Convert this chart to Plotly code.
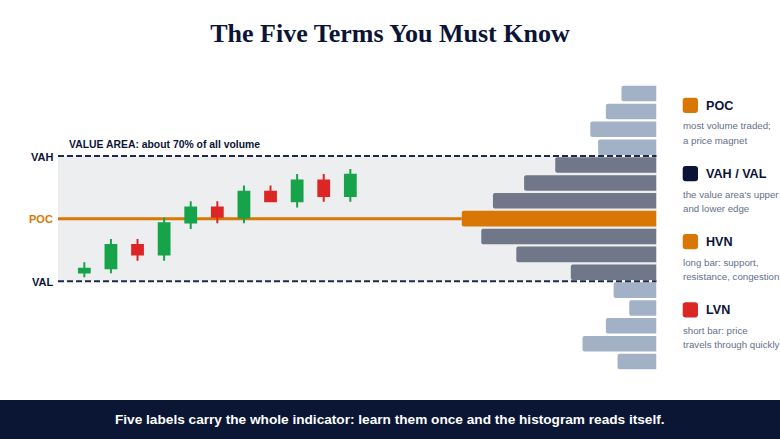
import plotly.graph_objects as go

W, H = 780, 439

# candles, prices relative to a POC of 100, one histogram bin = 1.0
candle_idx = list(range(11))
opens = [96.99, 97.22, 98.53, 97.99, 99.78, 100.63, 100.06, 101.51, 100.97, 102.14, 101.27]
highs = [97.56, 98.86, 98.86, 100.07, 100.97, 100.97, 101.85, 101.85, 102.50, 102.50, 102.78]
lows = [96.72, 96.94, 97.65, 97.65, 99.42, 99.74, 99.74, 100.97, 100.63, 100.94, 100.94]
closes = [97.19, 98.53, 97.99, 99.74, 100.63, 100.11, 101.51, 100.97, 102.14, 101.27, 102.45]

# volume profile, top bin to bottom bin
bin_prices = [107, 106, 105, 104, 103, 102, 101, 100, 99, 98, 97, 96, 95, 94, 93, 92]
volumes = [18, 26, 34, 30, 52, 68, 84, 100, 90, 72, 44, 22, 14, 26, 38, 20]

VAH, POC, VAL = 103.5, 100, 96.5

level_names = ["VAH", "POC", "VAL"]
level_values = [VAH, POC, VAL]

legend_names = ["POC", "VAH / VAL", "HVN", "LVN"]
legend_lines = [
    ["most volume traded;", "a price magnet"],
    ["the value area's upper", "and lower edge"],
    ["long bar: support,", "resistance, congestion"],
    ["short bar: price", "travels through quickly"],
]

NAVY = "#0b1437"
ORANGE = "#d97706"
GREEN = "#16a34a"
RED = "#dc2626"
BAR_IN = "#6f7788"
BAR_OUT = "#a3b1c6"
SANS = "Liberation Sans"


def px(x):
    return x / W


def py(y):
    return 1 - y / H


def label(x, y, text, size, color, anchor="left", bold=False):
    return dict(
        xref="paper", yref="paper", x=px(x), y=py(y), text=f"<b>{text}</b>" if bold else text,
        showarrow=False, xanchor=anchor, yanchor="middle",
        font=dict(family=SANS, size=size, color=color),
    )


def swatch(x, y, size, color, r=3):
    x0, x1 = px(x), px(x + size)
    y0, y1 = py(y), py(y + size)
    rx, ry = px(r), r / H
    path = (f"M {x0 + rx} {y0} L {x1 - rx} {y0} Q {x1} {y0} {x1} {y0 - ry} "
            f"L {x1} {y1 + ry} Q {x1} {y1} {x1 - rx} {y1} L {x0 + rx} {y1} "
            f"Q {x0} {y1} {x0} {y1 + ry} L {x0} {y0 - ry} Q {x0} {y0} {x0 + rx} {y0} Z")
    return dict(type="path", xref="paper", yref="paper", path=path,
                fillcolor=color, line_width=0, layer="above")


bar_colors = []
for p in bin_prices:
    if p == POC:
        bar_colors.append(ORANGE)
    elif VAL < p < VAH:
        bar_colors.append(BAR_IN)
    else:
        bar_colors.append(BAR_OUT)

fig = go.Figure()
fig.add_trace(go.Candlestick(
    x=candle_idx, open=opens, high=highs, low=lows, close=closes,
    increasing=dict(line=dict(color=GREEN, width=2), fillcolor=GREEN),
    decreasing=dict(line=dict(color=RED, width=2), fillcolor=RED),
    whiskerwidth=0, xaxis="x", yaxis="y", showlegend=False,
))
fig.add_trace(go.Bar(
    y=bin_prices, x=volumes, orientation="h", xaxis="x2", yaxis="y",
    marker=dict(color=bar_colors, cornerradius=2, line=dict(width=0)),
    showlegend=False,
))

shapes = [
    dict(type="rect", xref="paper", yref="y", x0=px(58), x1=px(656.5), y0=VAL, y1=VAH,
         fillcolor="#eceef0", line_width=0, layer="below"),
    dict(type="line", xref="x2", yref="y", x0=307.4, x1=max(volumes), y0=POC, y1=POC,
         line=dict(color=ORANGE, width=3), layer="below"),
    dict(type="rect", xref="paper", yref="paper", x0=0, x1=1, y0=0, y1=py(400),
         fillcolor="#0a1633", line_width=0, layer="above"),
]
for v in (VAH, VAL):
    shapes.append(dict(type="line", xref="paper", yref="y", x0=px(58), x1=px(656.5), y0=v, y1=v,
                       line=dict(color="#1e2a4a", width=2, dash="6px,3px"), layer="above"))

level_y = [157, 219, 282]
level_colors = [NAVY, ORANGE, NAVY]
annotations = [label(67, 144.5, "VALUE AREA: about 70% of all volume", 10.4, NAVY, bold=True)]
for name, y, c in zip(level_names, level_y, level_colors):
    annotations.append(label(55, y, name, 11, c, anchor="right", bold=True))

legend_colors = [ORANGE, NAVY, ORANGE, RED]
legend_tops = [97.7, 166, 234, 302.3]
for name, lines, c, top in zip(legend_names, legend_lines, legend_colors, legend_tops):
    shapes.append(swatch(682.7, top, 15.3, c))
    annotations.append(label(704, top + 8, name, 12.6, NAVY, bold=True))
    annotations.append(label(681, top + 28, lines[0], 9.7, "#64708a"))
    annotations.append(label(681, top + 42.5, lines[1], 9.7, "#64708a"))

annotations.append(label(390, 419, "Five labels carry the whole indicator: learn them once and the histogram reads itself.",
                         13.65, "#ffffff", anchor="center", bold=True))

fig.update_layout(
    width=W, height=H,
    margin=dict(l=0, r=0, t=0, b=0),
    paper_bgcolor="white", plot_bgcolor="rgba(0,0,0,0)",
    title=dict(text="<b>The Five Terms You Must Know</b>", x=0.5, xanchor="center",
               y=py(33), yanchor="middle",
               font=dict(family="Liberation Serif", size=26, color=NAVY)),
    xaxis=dict(domain=[px(58), px(656.5)], range=[-0.99, 21.51], visible=False,
               rangeslider=dict(visible=False), fixedrange=True),
    xaxis2=dict(domain=[px(58), px(656.5)], range=[307.4, 0], visible=False,
                overlaying="x", anchor="y", fixedrange=True),
    yaxis=dict(domain=[py(370.7), py(80.7)], range=[91.49, 107.72], visible=False, fixedrange=True),
    bargap=0.13, boxgap=0.42,
    shapes=shapes, annotations=annotations,
)

# the page's default body margin would push everything 8px off
fig.write_html("out.html", config=dict(displayModeBar=False),
               post_script="document.body.style.margin='0';")
